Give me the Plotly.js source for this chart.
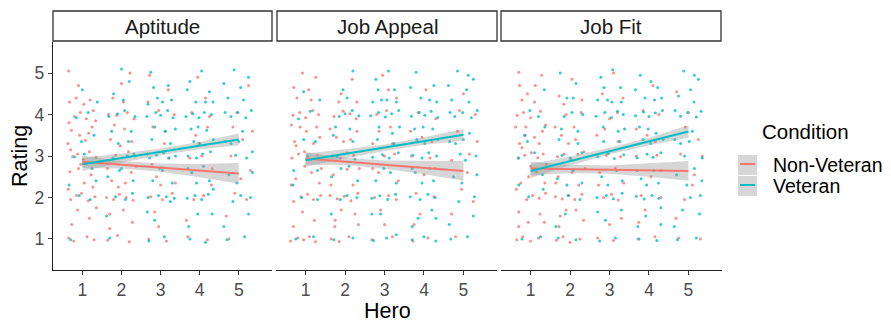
<!DOCTYPE html>
<html>
<head>
<meta charset="utf-8">
<script src="https://cdn.plot.ly/plotly-3.0.1.min.js"></script>
<style>html,body{margin:0;padding:0;background:#fff;}#chart{width:891px;height:322px;}</style>
</head>
<body>
<div id="chart"></div>
<script>
// ---- categories / labels ----
const facets = ["Aptitude", "Job Appeal", "Job Fit"];
const conditions = ["Non-Veteran", "Veteran"];
const heroTicks = [1, 2, 3, 4, 5];
const ratingTicks = [1, 2, 3, 4, 5];

const aptNon = [[0.65,1.02],[0.78,0.95],[1.12,1.05],[1.3,0.98],[0.7,1.95],[0.85,2.05],[0.98,2.1],[1.15,1.92],[1.32,2.02],[1.05,2.35],[0.68,2.62],[0.9,2.7],[1.22,2.55],[0.75,2.98],[0.88,3.05],[1.02,2.92],[1.18,3.1],[1.35,2.97],[0.63,3.3],[1.08,3.38],[0.72,3.62],[1.25,3.7],[0.8,3.95],[0.95,4.05],[1.1,3.9],[1.28,4.1],[0.67,4.3],[1.2,4.35],[0.9,4.7],[0.65,5.05],
[1.65,0.97],[1.9,1.08],[2.2,0.93],[1.7,1.6],[2.05,1.7],[1.62,2.0],[1.8,1.95],[1.95,2.08],[2.12,2.0],[2.3,1.93],[1.75,2.4],[2.25,2.6],[1.68,2.9],[1.85,3.02],[2.02,2.95],[2.18,3.1],[2.35,3.0],[1.72,3.4],[2.08,3.65],[1.88,3.98],[2.15,4.05],[2.32,3.9],[1.78,4.4],[2.0,4.75],[2.22,5.0],
[2.7,1.0],[3.15,0.95],[2.85,1.65],[2.75,2.02],[3.05,1.95],[3.3,2.1],[2.9,2.5],[3.2,2.95],[2.65,3.05],[3.1,3.3],[2.8,3.7],[3.35,4.0],[2.95,4.1],[3.2,4.6],[2.72,4.95],
[3.7,1.05],[4.2,0.98],[3.85,1.95],[4.1,2.05],[4.3,2.3],[3.75,2.95],[4.05,3.0],[3.9,3.5],[4.25,3.95],[3.8,4.05],[4.15,4.4],[3.95,4.9],
[4.75,1.0],[5.2,1.95],[4.9,2.1],[5.3,2.65],[4.8,3.0],[5.1,3.4],[4.95,4.05],[5.25,4.7],
[0.73,1.35],[1.18,1.5],[0.88,1.7],[1.36,1.75],[0.64,2.2],[1.27,2.25],[0.96,2.8],[1.4,2.85],[0.7,3.15],[0.93,3.5],[1.16,3.55],[0.66,3.8],[1.34,3.85],[1.04,4.25],[0.84,4.4],
[1.7,1.25],[2.28,1.4],[1.92,2.25],[2.1,2.35],[1.64,2.7],[2.38,2.75],[1.97,3.25],[2.26,3.35],[1.82,3.75],[2.05,4.3],[1.67,4.0],
[2.95,1.3],[3.38,2.35],[2.78,2.8],[3.12,3.6],[2.68,4.3],[3.0,2.3],
[3.66,1.45],[4.32,2.7],[3.98,3.3],[4.2,3.7],
[4.68,1.55],[5.05,2.45],[5.35,3.6],[4.85,3.7]];
const aptVet = [[0.7,0.98],[1.2,1.95],[0.92,2.05],[1.35,2.4],[0.8,2.98],[1.05,3.05],[1.3,3.5],[0.85,3.92],[1.15,4.05],[1.0,4.6],
[1.7,1.02],[2.1,1.95],[1.85,2.02],[2.28,2.1],[1.65,2.5],[2.0,2.7],[1.78,2.95],[2.15,3.0],[2.32,3.05],[1.92,3.3],[2.25,3.6],[1.68,3.95],[1.9,4.02],[2.08,4.1],[2.35,3.95],[1.8,4.5],[2.2,4.8],[2.0,5.1],
[2.7,0.95],[3.1,1.05],[2.85,1.45],[3.25,1.9],[2.68,2.0],[2.95,2.05],[3.15,2.02],[3.35,1.98],[2.8,2.4],[3.05,2.65],[2.72,2.95],[2.9,3.02],[3.08,3.08],[3.22,2.95],[3.38,3.0],[2.78,3.4],[3.12,3.6],[2.65,3.95],[2.88,4.05],[3.0,3.98],[3.18,4.1],[3.32,3.92],[2.92,4.4],[3.2,4.7],[2.75,5.02],
[3.75,1.0],[4.15,0.92],[3.95,1.6],[3.68,1.98],[3.88,2.05],[4.05,1.95],[4.22,2.08],[4.35,2.2],[3.8,2.6],[4.1,2.75],[3.7,3.0],[3.92,2.95],[4.08,3.05],[4.28,3.1],[3.85,3.35],[4.18,3.62],[3.65,3.95],[3.82,4.02],[3.98,3.92],[4.12,4.05],[4.3,4.0],[3.9,4.3],[4.25,4.55],[3.75,4.8],[4.05,5.05],
[4.7,0.98],[5.15,1.05],[4.85,1.9],[5.05,2.05],[5.3,2.0],[4.75,2.55],[5.2,2.95],[4.92,3.02],[5.35,3.1],[4.65,3.35],[5.1,3.6],[4.8,3.95],[4.98,4.05],[5.18,3.92],[5.32,4.1],[4.72,4.4],[5.05,4.65],[5.25,4.9],[4.88,5.08],[4.62,4.75],
[0.66,2.3],[1.25,2.7],[0.98,3.35],[1.38,4.3],
[1.62,1.55],[2.3,2.4],[1.95,2.65],[1.75,3.6],[2.18,3.35],[2.05,4.35],
[2.66,1.65],[3.3,2.35],[2.98,2.7],[3.25,3.3],[2.85,3.7],[3.38,3.65],[2.68,4.25],[3.05,4.3],[3.28,4.35],[2.82,4.65],
[3.72,1.3],[4.32,1.6],[3.92,2.35],[4.25,2.4],[3.7,2.7],[4.0,3.3],[4.35,3.4],[3.78,3.65],[3.96,3.7],[4.15,4.3],[4.34,4.3],[3.68,4.6],
[4.62,1.3],[5.25,1.6],[4.95,2.35],[5.35,2.6],[4.8,3.3],[5.0,3.35],[4.65,4.05],[5.12,4.35]];
const appNon = [[0.62,0.95],[0.8,1.02],[0.95,0.98],[1.1,1.05],[1.25,0.93],[0.7,1.9],[0.88,2.02],[1.05,2.08],[1.2,1.95],[1.38,2.05],[0.75,2.45],[1.15,2.6],[0.65,2.95],[0.82,3.05],[0.97,3.1],[1.12,2.92],[1.3,3.02],[0.72,3.35],[1.02,3.6],[1.28,3.7],[0.68,3.98],[0.85,4.05],[1.0,3.92],[1.18,4.1],[1.33,4.0],[0.78,4.4],[1.08,4.6],[0.92,5.0],
[1.65,1.0],[1.85,0.94],[2.1,1.05],[1.75,1.45],[2.25,1.6],[1.62,2.05],[1.8,1.97],[1.98,2.03],[2.15,1.92],[2.32,2.1],[1.7,2.55],[2.05,2.68],[1.68,3.0],[1.88,2.95],[2.05,3.08],[2.22,3.02],[1.78,3.45],[2.3,3.6],[1.72,3.95],[1.95,4.08],[2.12,4.02],[2.28,3.9],[1.9,4.5],[2.18,4.85],
[2.68,0.98],[3.2,1.05],[2.9,1.7],[2.75,2.0],[3.1,2.05],[3.3,1.95],[2.85,2.6],[3.0,3.0],[3.25,3.05],[2.7,3.3],[3.15,3.7],[2.8,4.0],[3.05,4.1],[3.3,4.4],[2.95,4.95],
[3.72,0.95],[4.1,1.02],[3.9,1.6],[4.25,2.02],[3.8,2.1],[4.0,2.55],[3.68,3.0],[4.15,2.95],[3.95,3.45],[4.3,3.9],[3.85,4.05],[4.05,4.6],
[4.8,1.05],[5.25,1.9],[4.95,2.2],[4.7,2.9],[5.15,3.05],[4.85,3.6],[5.3,4.0],[5.0,4.5],
[0.69,1.3],[1.22,1.45],[0.92,1.65],[1.35,2.35],[0.63,2.3],[0.98,2.75],[1.4,2.7],[0.76,3.25],[1.2,3.3],[0.86,3.7],[0.64,3.75],[1.36,3.45],[1.14,4.35],[0.7,4.65],[1.26,4.9],
[1.74,1.3],[2.34,1.35],[1.9,1.7],[2.2,2.3],[1.64,2.3],[2.36,2.7],[1.96,3.35],[2.14,3.4],[1.62,3.65],[2.3,4.3],[1.84,4.3],
[3.0,1.35],[3.35,2.4],[2.7,2.7],[3.2,3.3],[2.86,3.6],[3.1,4.6],
[3.75,1.35],[4.28,2.7],[3.66,3.6],[4.2,3.35],
[4.7,1.6],[5.1,2.6],[5.35,3.35],[4.9,4.1]];
const appVet = [[0.75,1.0],[1.2,1.05],[0.9,2.0],[1.3,1.95],[0.7,2.65],[1.05,3.0],[1.25,3.35],[0.82,3.9],[1.12,4.08],[0.95,4.55],
[1.72,0.98],[2.2,1.02],[1.88,1.95],[2.05,2.05],[2.3,2.0],[1.66,2.5],[2.1,2.75],[1.8,2.98],[1.97,3.05],[2.25,2.92],[1.7,3.5],[2.12,3.65],[1.85,3.95],[2.0,4.02],[2.18,4.1],[2.35,3.97],[1.95,4.6],[2.2,5.05],
[2.72,0.96],[3.05,1.02],[3.3,1.1],[2.9,1.6],[2.68,1.98],[2.88,2.04],[3.08,1.95],[3.28,2.08],[2.78,2.4],[3.15,2.6],[2.7,2.97],[2.95,3.03],[3.12,2.95],[3.35,3.08],[2.82,3.4],[3.2,3.55],[2.65,3.97],[2.85,4.05],[3.02,3.94],[3.18,4.02],[3.36,4.1],[2.92,4.35],[3.25,4.6],[2.78,4.85],[3.1,5.05],
[3.7,0.98],[4.0,1.05],[4.3,0.95],[3.85,1.5],[4.2,1.7],[3.65,2.02],[3.9,1.95],[4.1,2.08],[4.28,2.0],[3.78,2.6],[4.15,2.7],[3.72,3.02],[3.95,2.95],[4.12,3.08],[4.32,3.0],[3.82,3.4],[4.22,3.65],[3.68,3.96],[3.88,4.05],[4.02,3.98],[4.18,4.08],[4.35,3.93],[3.92,4.4],[4.25,4.7],[3.8,5.02],
[4.68,1.0],[5.1,1.05],[4.88,1.9],[5.28,2.02],[4.75,2.5],[5.05,2.9],[4.92,3.05],[5.32,3.0],[4.65,3.35],[5.15,3.55],[4.78,3.95],[4.98,4.05],[5.2,3.92],[5.35,4.1],[4.7,4.35],[5.08,4.6],[5.25,4.85],[4.85,5.05],[5.12,4.95],[4.62,4.7],
[0.68,2.3],[1.3,2.65],[0.95,3.4],[1.36,4.35],
[1.65,1.6],[2.32,2.4],[1.9,2.7],[1.76,3.7],[2.2,3.35],[2.05,4.4],
[2.68,1.6],[3.3,2.35],[2.98,2.7],[3.24,3.3],[2.86,3.7],[3.38,3.7],[2.7,4.3],[3.06,4.35],[3.3,4.3],[2.84,4.6],
[3.7,1.3],[4.3,1.5],[3.95,2.35],[4.24,2.4],[3.7,2.7],[4.02,3.3],[4.35,3.4],[3.76,3.65],[3.98,3.7],[4.14,4.35],[4.32,4.3],[3.66,4.65],
[4.64,1.35],[5.25,1.55],[4.96,2.35],[5.34,2.55],[4.8,3.3],[5.0,3.4],[4.66,4.05],[5.14,4.3]];
const fitNon = [[0.65,0.98],[0.8,1.05],[1.0,0.95],[1.2,1.02],[1.35,1.4],[0.7,1.65],[0.9,1.95],[1.05,2.05],[1.22,1.98],[1.38,2.1],[0.75,2.35],[0.95,2.5],[1.15,2.62],[0.68,2.95],[0.85,3.02],[1.02,3.08],[1.18,2.96],[1.32,3.05],[0.72,3.3],[1.1,3.45],[0.88,3.7],[0.66,3.98],[0.82,4.05],[1.0,3.92],[1.25,4.08],[0.78,4.35],[1.12,4.7],[0.92,4.5],[0.7,5.02],[1.3,3.6],
[1.65,0.97],[1.82,1.05],[2.0,0.92],[2.25,1.0],[1.75,1.55],[2.15,1.7],[1.63,2.02],[1.8,1.96],[1.97,2.05],[2.12,1.95],[2.3,2.08],[1.7,2.5],[2.05,2.6],[1.68,2.98],[1.85,3.05],[2.02,2.93],[2.2,3.04],[2.35,3.1],[1.78,3.5],[2.1,3.7],[1.9,4.0],[2.28,4.05],[1.72,4.45],[2.05,4.85],
[2.7,1.02],[3.1,0.96],[3.3,1.5],[2.85,2.0],[3.05,2.08],[3.22,1.94],[2.75,2.6],[3.15,2.7],[2.92,3.02],[3.28,2.98],[2.68,3.5],[3.0,3.9],[3.2,4.05],[2.82,4.5],[3.1,5.0],
[3.72,1.0],[4.15,1.05],[3.9,1.7],[4.3,2.0],[3.8,2.05],[4.05,2.5],[3.68,3.0],[4.2,3.02],[3.95,3.5],[4.25,4.0],[3.85,4.1],[4.1,4.7],
[4.75,1.02],[5.3,1.0],[4.9,1.95],[5.15,2.55],[4.8,3.05],[5.25,3.4],[5.0,4.05],[4.7,4.55],
[0.7,1.3],[1.24,1.6],[0.94,1.4],[1.36,2.35],[0.64,2.2],[1.0,2.75],[1.4,2.8],[0.78,3.2],[1.22,3.3],[0.86,3.5],[0.62,3.7],[1.38,3.75],[1.1,4.3],[0.72,4.7],[1.28,4.95],
[1.72,1.3],[2.34,1.45],[1.9,1.7],[2.22,2.3],[1.64,2.35],[2.38,2.7],[1.96,3.3],[2.14,3.4],[1.62,3.7],[2.3,4.35],[1.84,4.25],
[3.0,1.35],[3.36,2.35],[2.72,2.3],[3.22,3.35],[2.88,3.65],[3.34,4.4],
[3.74,1.4],[4.3,2.65],[3.68,3.65],[4.16,3.35],
[4.68,1.5],[5.1,2.3],[5.35,3.0],[4.92,3.7]];
const fitVet = [[0.78,1.0],[1.25,1.05],[0.95,2.02],[1.3,2.55],[0.7,2.95],[1.1,3.08],[0.85,3.5],[1.2,3.95],[0.98,4.1],[1.35,4.6],
[1.7,1.02],[2.15,0.98],[1.88,1.6],[1.95,2.05],[2.25,1.95],[1.68,2.45],[2.08,2.65],[1.8,3.02],[2.0,2.95],[2.3,3.08],[1.72,3.4],[2.2,3.6],[1.85,3.95],[2.05,4.05],[2.32,4.0],[1.92,4.4],[2.15,4.75],[1.75,5.0],
[2.75,0.95],[3.15,1.02],[2.9,1.45],[3.3,1.7],[2.68,2.0],[2.92,2.05],[3.1,1.97],[3.32,2.1],[2.8,2.5],[3.18,2.65],[2.7,2.98],[2.97,3.06],[3.12,2.94],[3.36,3.03],[2.85,3.35],[3.22,3.6],[2.66,3.96],[2.88,4.05],[3.05,3.93],[3.2,4.08],[3.35,4.0],[2.95,4.35],[3.28,4.65],[2.78,4.9],[3.08,5.08],
[3.75,1.0],[4.2,0.96],[3.92,1.55],[4.3,1.75],[3.68,2.03],[3.88,1.96],[4.08,2.05],[4.25,1.98],[3.8,2.45],[4.12,2.65],[3.7,2.96],[3.95,3.04],[4.1,2.97],[4.3,3.08],[3.85,3.4],[4.18,3.55],[3.66,3.97],[3.86,4.06],[4.0,3.95],[4.16,4.04],[4.34,4.1],[3.9,4.4],[4.22,4.65],[3.78,4.95],[4.05,4.8],
[4.72,0.98],[5.2,1.02],[4.85,1.7],[5.05,2.0],[5.3,2.05],[4.7,2.55],[5.15,2.7],[4.9,3.0],[5.35,2.95],[4.65,3.4],[5.1,3.6],[4.8,3.96],[4.98,4.05],[5.2,3.94],[5.32,4.08],[4.75,4.45],[5.05,4.6],[5.25,4.85],[4.88,5.05],[5.15,4.95],
[0.7,2.3],[1.32,2.2],[0.92,3.35],[1.36,3.7],
[1.64,1.3],[2.3,2.35],[1.92,2.3],[1.78,3.65],[2.2,3.3],[2.08,4.4],
[2.7,1.65],[3.32,2.4],[2.96,2.3],[3.26,3.35],[2.84,3.7],[3.38,3.65],[2.7,4.35],[3.06,4.3],[3.3,4.3],[2.86,4.65],
[3.72,1.3],[4.3,1.35],[3.94,2.3],[4.24,2.35],[3.7,2.65],[4.04,3.3],[4.36,3.4],[3.76,3.7],[3.98,3.65],[4.14,4.35],[4.32,4.4],[3.66,4.6],
[4.64,1.3],[5.28,1.6],[4.96,2.3],[5.34,2.4],[4.8,3.3],[5.02,3.35],[4.66,4.1],[5.14,4.3]];

// ---- fitted regression lines (endpoints at Hero = 1 and 5) ----
const lineX = [1, 5];
const aptNonLine = [2.86, 2.58];
const aptVetLine = [2.80, 3.40];
const appNonLine = [2.94, 2.64];
const appVetLine = [2.90, 3.51];
const fitNonLine = [2.70, 2.64];
const fitVetLine = [2.64, 3.59];

// ---- confidence bands read at Hero = 1..5 ----
const bandX = [1, 2, 3, 4, 5];
const aptNonUp = [3.01, 2.88, 2.82, 2.81, 2.83], aptNonLo = [2.71, 2.70, 2.62, 2.49, 2.33];
const aptVetUp = [2.96, 3.06, 3.18, 3.34, 3.54], aptVetLo = [2.64, 2.84, 3.02, 3.16, 3.26];
const appNonUp = [3.09, 2.96, 2.89, 2.88, 2.88], appNonLo = [2.79, 2.78, 2.69, 2.56, 2.40];
const appVetUp = [3.06, 3.16, 3.28, 3.45, 3.65], appVetLo = [2.74, 2.94, 3.12, 3.27, 3.37];
const fitNonUp = [2.87, 2.79, 2.77, 2.82, 2.88], fitNonLo = [2.53, 2.59, 2.57, 2.50, 2.40];
const fitVetUp = [2.81, 2.99, 3.20, 3.44, 3.74], fitVetLo = [2.47, 2.77, 3.04, 3.26, 3.44];

// ---- styling ----
const colNon = "#F8766D", colVet = "#00BFC4";
const bandFill = "rgba(153,153,153,0.4)";
const FONT = "Liberation Sans, Arial, sans-serif";

const panels = [
  {ax: "x",  pts: [aptNon, aptVet], lines: [aptNonLine, aptVetLine], up: [aptNonUp, aptVetUp], lo: [aptNonLo, aptVetLo]},
  {ax: "x2", pts: [appNon, appVet], lines: [appNonLine, appVetLine], up: [appNonUp, appVetUp], lo: [appNonLo, appVetLo]},
  {ax: "x3", pts: [fitNon, fitVet], lines: [fitNonLine, fitVetLine], up: [fitNonUp, fitVetUp], lo: [fitNonLo, fitVetLo]}
];
const cols = [colNon, colVet];

const traces = [];
panels.forEach(p => {
  [0, 1].forEach(i => {
    traces.push({type: "scatter", mode: "markers", xaxis: p.ax, yaxis: "y",
      x: p.pts[i].map(d => d[0]), y: p.pts[i].map(d => d[1]),
      marker: {color: cols[i], size: 3, opacity: 0.8}, hoverinfo: "skip", showlegend: false});
  });
  [0, 1].forEach(i => {
    traces.push({type: "scatter", mode: "lines", xaxis: p.ax, yaxis: "y",
      x: bandX.concat(bandX.slice().reverse()),
      y: p.up[i].concat(p.lo[i].slice().reverse()),
      fill: "toself", fillcolor: bandFill, line: {width: 0}, hoverinfo: "skip", showlegend: false});
  });
  [0, 1].forEach(i => {
    traces.push({type: "scatter", mode: "lines", xaxis: p.ax, yaxis: "y",
      x: lineX, y: p.lines[i], line: {color: cols[i], width: 2}, hoverinfo: "skip", showlegend: false});
  });
});

const W = 891, H = 322, ML = 53, MR = 169, MT = 42, MB = 52;
const plotW = W - ML - MR;
const px = v => (v - ML) / plotW;          // pixel -> paper x
const py = v => 1 - (v - MT) / (H - MT - MB); // pixel -> paper y
const doms = [[px(53), px(272)], [px(276), px(497)], [px(501), px(722)]];

const xbase = {range: [0.25, 5.85], tickvals: heroTicks, ticktext: heroTicks.map(String),
  showgrid: false, zeroline: false, showline: true, linecolor: "#222", linewidth: 1.2,
  ticks: "outside", ticklen: 4, tickcolor: "#333", tickwidth: 1,
  tickfont: {family: FONT, size: 17.5, color: "#4D4D4D"}, anchor: "y", fixedrange: true};

const shapes = [], annotations = [];
facets.forEach((f, i) => {
  const x0 = [53, 277, 501][i], x1 = [272, 497, 721][i];
  shapes.push({type: "rect", xref: "paper", yref: "paper", x0: px(x0), x1: px(x1), y0: py(41), y1: py(11),
    line: {color: "#333", width: 1.3}, fillcolor: "#fff"});
  annotations.push({xref: "paper", yref: "paper", x: (px(x0) + px(x1)) / 2, y: py(26), text: f,
    showarrow: false, xanchor: "center", yanchor: "middle", font: {family: FONT, size: 20.5, color: "#1A1A1A"}});
});
// legend
annotations.push({xref: "paper", yref: "paper", x: px(760), y: py(131), text: "Condition", showarrow: false,
  xanchor: "left", yanchor: "middle", font: {family: FONT, size: 20.5, color: "#000"}});
conditions.forEach((c, i) => {
  const yc = [165, 186][i];
  shapes.push({type: "rect", xref: "paper", yref: "paper", x0: px(738), x1: px(757), y0: py(yc + 10), y1: py(yc - 10),
    line: {width: 0}, fillcolor: bandFill});
  shapes.push({type: "line", xref: "paper", yref: "paper", x0: px(740), x1: px(755), y0: py(yc - 1), y1: py(yc - 1),
    line: {color: cols[i], width: 2}});
  annotations.push({xref: "paper", yref: "paper", x: px(771), y: py(yc), text: c, showarrow: false,
    xanchor: "left", yanchor: "middle", font: {family: FONT, size: 19.5, color: "#000"}});
});
annotations.push({xref: "paper", yref: "paper", x: px(387.5), y: py(311), text: "Hero", showarrow: false,
  xanchor: "center", yanchor: "middle", font: {family: FONT, size: 21.5, color: "#000"}});
annotations.push({xref: "paper", yref: "paper", x: px(20), y: py(156), text: "Rating", showarrow: false,
  textangle: -90, xanchor: "center", yanchor: "middle", font: {family: FONT, size: 21.5, color: "#000"}});

const layout = {
  width: W, height: H, margin: {l: ML, r: MR, t: MT, b: MB, pad: 0},
  paper_bgcolor: "#fff", plot_bgcolor: "#fff", showlegend: false,
  xaxis: Object.assign({}, xbase, {domain: doms[0]}),
  xaxis2: Object.assign({}, xbase, {domain: doms[1]}),
  xaxis3: Object.assign({}, xbase, {domain: doms[2]}),
  yaxis: {range: [0.25, 5.75], tickvals: ratingTicks, ticktext: ratingTicks.map(String), domain: [0, 1],
    showgrid: false, zeroline: false, showline: true, linecolor: "#222", linewidth: 1.2,
    ticks: "outside", ticklen: 4, tickcolor: "#333", tickwidth: 1,
    tickfont: {family: FONT, size: 17.5, color: "#4D4D4D"}, fixedrange: true},
  shapes: shapes, annotations: annotations
};

Plotly.newPlot("chart", traces, layout, {displayModeBar: false, staticPlot: true});
</script>
</body>
</html>
